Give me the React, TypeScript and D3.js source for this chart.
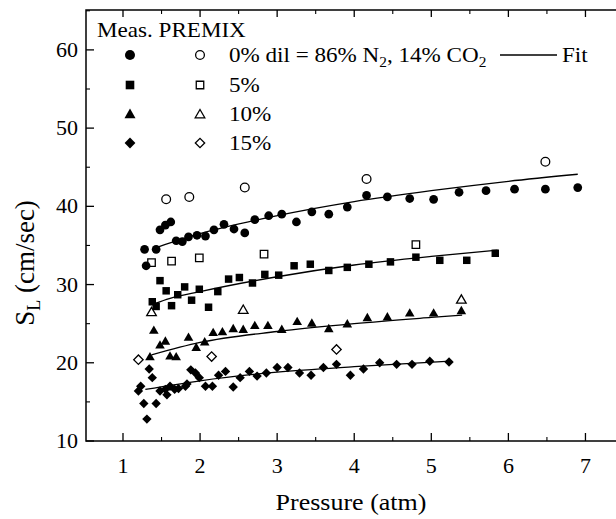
import React from "react";
import * as d3 from "d3";

type Pt = [number, number];

// Measured (filled) and PREMIX (open) laminar flame speeds, cm/sec vs pressure, atm
const meas0: Pt[] = [[1.28,34.5],[1.30,32.4],[1.43,34.5],[1.48,37.0],[1.55,37.6],[1.62,38.0],[1.69,35.6],[1.77,35.5],[1.85,36.1],[1.96,36.3],[2.07,36.2],[2.18,37.0],[2.31,37.7],[2.44,37.1],[2.58,36.6],[2.71,38.3],[2.89,38.8],[3.06,39.0],[3.25,38.0],[3.45,39.3],[3.67,39.0],[3.91,39.9],[4.16,41.4],[4.43,41.2],[4.72,41.0],[5.03,40.9],[5.36,41.8],[5.71,42.0],[6.08,42.2],[6.48,42.2],[6.90,42.4]];
const prem0: Pt[] = [[1.56,40.9],[1.86,41.2],[2.58,42.4],[4.16,43.5],[6.48,45.7]];
const fit0: Pt[] = [[1.45,34.8],[2,36.5],[3,38.8],[4,40.6],[5,42.0],[6,43.2],[6.9,44.1]];

const meas5: Pt[] = [[1.38,27.8],[1.43,27.2],[1.48,30.5],[1.56,29.2],[1.63,27.3],[1.71,28.7],[1.80,29.7],[1.89,28.0],[1.99,29.4],[2.11,27.1],[2.23,29.1],[2.37,30.7],[2.51,30.9],[2.68,30.2],[2.84,31.3],[3.02,31.2],[3.22,32.4],[3.43,32.6],[3.67,31.8],[3.91,32.2],[4.19,32.6],[4.47,32.9],[4.80,33.5],[5.11,33.1],[5.46,33.1],[5.83,34.0]];
const prem5: Pt[] = [[1.37,32.8],[1.63,33.0],[1.99,33.4],[2.83,33.9],[4.80,35.1]];
const fit5: Pt[] = [[1.42,27.6],[1.6,28.2],[2,29.1],[3,31.0],[4,32.5],[5,33.6],[5.86,34.4]];

const meas10: Pt[] = [[1.35,20.8],[1.40,24.2],[1.48,22.3],[1.55,22.8],[1.61,20.9],[1.69,20.8],[1.85,23.3],[1.95,22.0],[2.06,22.7],[2.17,23.9],[2.29,24.0],[2.43,24.4],[2.56,24.3],[2.71,24.8],[2.88,24.8],[3.06,24.3],[3.26,25.3],[3.45,25.1],[3.67,24.4],[3.91,25.0],[4.17,25.8],[4.43,25.9],[4.72,26.4],[5.03,26.4],[5.39,26.7]];
const prem10: Pt[] = [[1.37,26.5],[2.56,26.8],[5.39,28.1]];
const fit10: Pt[] = [[1.37,21.0],[2,22.6],[3,24.0],[4,25.0],[5,25.8],[5.4,26.1]];

const meas15: Pt[] = [[1.20,16.4],[1.23,17.0],[1.27,14.8],[1.31,12.8],[1.34,19.2],[1.38,18.1],[1.43,14.8],[1.48,16.4],[1.55,16.6],[1.57,15.9],[1.61,17.0],[1.67,16.6],[1.72,16.7],[1.81,17.0],[1.83,17.3],[1.88,19.1],[1.94,18.7],[1.99,18.1],[2.07,17.0],[2.16,17.0],[2.24,18.4],[2.33,18.9],[2.43,16.9],[2.52,18.1],[2.64,18.9],[2.74,18.3],[2.86,18.7],[3.00,19.4],[3.14,19.4],[3.29,18.7],[3.44,18.4],[3.60,19.4],[3.77,19.8],[3.95,18.4],[4.12,19.2],[4.33,20.0],[4.55,19.8],[4.75,19.8],[4.98,20.2],[5.23,20.1]];
const prem15: Pt[] = [[1.20,20.4],[2.15,20.8],[3.77,21.7]];
const fit15: Pt[] = [[1.29,16.6],[2,17.7],[3,18.8],[4,19.5],[5.25,20.2]];

const xTicks = [1, 2, 3, 4, 5, 6, 7];
const xMinor = [1.5, 2.5, 3.5, 4.5, 5.5, 6.5, 7.5];
const yTicks = [10, 20, 30, 40, 50, 60];
const yMinor = [15, 25, 35, 45, 55, 65];
const legendLabels = ["0% dil = 86% N", "5%", "10%", "15%"];

const W = 616, H = 519;
const L = 86, T = 10, R = 624, B = 441;
const FONT = '"Liberation Serif", "Times New Roman", serif';

function SText(props: { x: number; y: number; size: number; anchor?: string; sx?: number; children: React.ReactNode }) {
  const { x, y, size, anchor = "start", sx = 1.1, children } = props;
  return (
    <g transform={`translate(${x},${y}) scale(${sx},1)`}>
      <text x={0} y={0} fontSize={size} fontFamily="Liberation Serif" textAnchor={anchor as any} style={{ fontFamily: FONT }} fill="#000">{children}</text>
    </g>
  );
}

export default function App() {
  const x = d3.scaleLinear().domain([0.52, 7.5]).range([L, R]);
  const y = d3.scaleLinear().domain([10, 65.1]).range([B, T]);
  const line = d3.line<Pt>().x(d => x(d[0])).y(d => y(d[1])).curve(d3.curveMonotoneX);

  const circ = d3.symbol().type(d3.symbolCircle).size(60)()!;
  const sq = d3.symbol().type(d3.symbolSquare).size(56)()!;
  const tri = d3.symbol().type(d3.symbolTriangle).size(40)()!;
  const dia = d3.symbol().type(d3.symbolSquare).size(44)()!;
  const shapes = [
    { meas: meas0, prem: prem0, fit: fit0, path: circ, rot: 0, dy: 0 },
    { meas: meas5, prem: prem5, fit: fit5, path: sq, rot: 0, dy: 0 },
    { meas: meas10, prem: prem10, fit: fit10, path: tri, rot: 0, dy: 1 },
    { meas: meas15, prem: prem15, fit: fit15, path: dia, rot: 45, dy: 0 },
  ];
  const rowY = [55, 85, 114, 143];

  return (
    <svg width={W} height={H} fontFamily="Liberation Serif" style={{ position: "absolute", left: 0, top: 0, background: "#fff", fontFamily: FONT }}>
      <rect width={W} height={H} fill="#fff" />
      <rect x={L} y={T} width={R - L} height={B - T} fill="none" stroke="#000" strokeWidth={1.5} />
      {xTicks.map(t => (
        <g key={"xt" + t}>
          <line x1={x(t)} x2={x(t)} y1={B} y2={B - 8} stroke="#000" strokeWidth={1.3} />
          <line x1={x(t)} x2={x(t)} y1={T} y2={T + 7} stroke="#000" strokeWidth={1.3} />
          <SText x={x(t)} y={473} size={20} anchor="middle">{t}</SText>
        </g>
      ))}
      {xMinor.map(t => (
        <g key={"xm" + t}>
          <line x1={x(t)} x2={x(t)} y1={B} y2={B - 4} stroke="#000" strokeWidth={1.1} />
          <line x1={x(t)} x2={x(t)} y1={T} y2={T + 4} stroke="#000" strokeWidth={1.1} />
        </g>
      ))}
      {yTicks.map(t => (
        <g key={"yt" + t}>
          <line x1={L} x2={L + 8} y1={y(t)} y2={y(t)} stroke="#000" strokeWidth={1.3} />
          <SText x={78} y={y(t) + 7} size={20} anchor="end">{t}</SText>
        </g>
      ))}
      {yMinor.map(t => (
        <line key={"ym" + t} x1={L} x2={L + 4} y1={y(t)} y2={y(t)} stroke="#000" strokeWidth={1.1} />
      ))}
      <SText x={351} y={510} size={23} anchor="middle" sx={1.13}>Pressure (atm)</SText>
      <text transform={`translate(34,263) rotate(-90)`} textAnchor="middle" fontSize={27} fontFamily="Liberation Serif" style={{ fontFamily: FONT }}>
        S<tspan fontSize={18} dy={6}>L</tspan><tspan dy={-6}> (cm/sec)</tspan>
      </text>
      {shapes.map((s, i) => (
        <path key={"f" + i} d={line(s.fit)!} fill="none" stroke="#000" strokeWidth={1.3} />
      ))}
      {shapes.map((s, i) => (
        <g key={"m" + i}>
          {s.meas.map((d, j) => (
            <path key={j} d={s.path} transform={`translate(${x(d[0])},${y(d[1]) + s.dy}) rotate(${s.rot})`} fill="#000" />
          ))}
          {s.prem.map((d, j) => (
            <path key={"p" + j} d={s.path} transform={`translate(${x(d[0])},${y(d[1]) + s.dy}) rotate(${s.rot})`} fill="none" stroke="#000" strokeWidth={1.3} />
          ))}
        </g>
      ))}
      <SText x={97} y={37} size={21}>Meas. PREMIX</SText>
      {shapes.map((s, i) => (
        <g key={"lg" + i}>
          <path d={s.path} transform={`translate(130,${rowY[i] + s.dy}) rotate(${s.rot}) scale(1.15)`} fill="#000" />
          <path d={s.path} transform={`translate(200,${rowY[i] + s.dy}) rotate(${s.rot})`} fill="none" stroke="#000" strokeWidth={1.3} />
          {i === 0 ? (
            <SText x={229} y={rowY[i] + 7} size={21}>
              {legendLabels[0]}<tspan fontSize={14} dy={5}>2</tspan><tspan dy={-5}>, 14% CO</tspan><tspan fontSize={14} dy={5}>2</tspan>
            </SText>
          ) : (
            <SText x={229} y={rowY[i] + 7} size={21}>{legendLabels[i]}</SText>
          )}
        </g>
      ))}
      <line x1={500} x2={557} y1={rowY[0]} y2={rowY[0]} stroke="#000" strokeWidth={1.3} />
      <SText x={562} y={rowY[0] + 7} size={21}>Fit</SText>
    </svg>
  );
}
